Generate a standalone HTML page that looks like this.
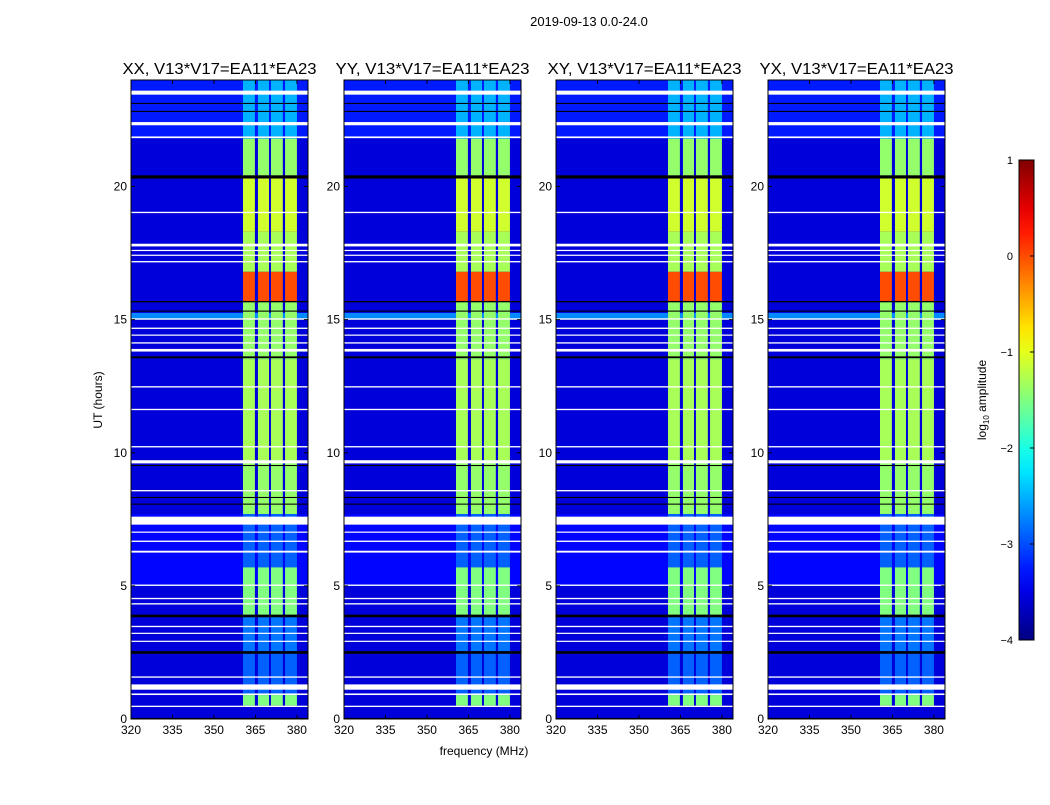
<!DOCTYPE html>
<html><head><meta charset="utf-8"><style>
html,body{margin:0;padding:0;background:#fff;}
svg text{font-family:"Liberation Sans","DejaVu Sans",sans-serif;}
</style></head><body>
<svg id="fig" width="1050" height="800" viewBox="0 0 1050 800" xmlns="http://www.w3.org/2000/svg">
<text x="589" y="26" font-size="13" text-anchor="middle">2019-09-13 0.0-24.0</text>
<text x="484" y="755" font-size="12" text-anchor="middle">frequency (MHz)</text>
<text transform="translate(102,400) rotate(-90)" font-size="12" text-anchor="middle">UT (hours)</text>
<g id="panels"></g>
<g id="cbar"></g>
</svg>
<script>
const panelTitles = ["XX, V13*V17=EA11*EA23","YY, V13*V17=EA11*EA23","XY, V13*V17=EA11*EA23","YX, V13*V17=EA11*EA23"];
const xTicks = [320,335,350,365,380];
const yTicks = [0,5,10,15,20];
const cbTicks = [1,0,-1,-2,-3,-4];
const bands = [[360.5,364.8],[365.9,369.9],[370.6,374.9],[375.7,380]];
// background segments [t0,t1,log amp]
const bgSegs = [[0,5,-3.55],[5,7.7,-3.35],[7.7,15,-3.55],[15,15.25,-2.7],[15.25,21.8,-3.55],[21.8,24,-3.25]];
// band segments [t0,t1,log amp]
const bandSegs = [[0.5,0.9,-1.5],[0.9,2.5,-2.9],[2.5,3.9,-2.8],[3.9,5.7,-1.5],[5.7,7.7,-2.9],[7.7,9.7,-1.4],[9.7,13.5,-1.3],[13.5,15.7,-1.4],[15.7,16.8,0.0],[16.8,18.3,-1.3],[18.3,20.4,-1.1],[20.4,21.8,-1.4],[21.8,24,-2.5]];
const whiteRows = [[23.45,23.6],[22.3,22.42],[21.82,21.88],[19.0,19.05],[17.75,17.85],[17.58,17.62],[17.4,17.44],[17.15,17.2],[15.0,15.05],[14.65,14.7],[14.4,14.44],[14.1,14.15],[13.8,13.9],[12.45,12.5],[11.6,11.65],[10.2,10.25],[9.6,9.72],[8.55,8.6],[7.3,7.6],[7.0,7.04],[6.65,6.7],[6.25,6.32],[5.0,5.05],[4.5,4.55],[4.3,4.35],[3.45,3.5],[3.2,3.24],[2.9,2.94],[1.55,1.6],[1.1,1.3],[0.9,0.96],[0.45,0.5]];
const blackRows = [[23.1,23.14],[22.8,22.84],[20.3,20.42],[15.65,15.7],[15.3,15.34],[13.55,13.62],[9.5,9.54],[8.3,8.34],[8.05,8.09],[3.82,3.92],[2.45,2.55],[0,0.04]];
const fMin=320,fMax=384,tMin=0,tMax=24,cMin=-4,cMax=1;
const panelX=[131,344,556,768], panelW=177, pTop=80, pBot=719;
const NS="http://www.w3.org/2000/svg";
function jet(a){const v=Math.max(0,Math.min(1,(a-cMin)/(cMax-cMin)));const c=x=>Math.round(255*Math.max(0,Math.min(1,1.5-Math.abs(x))));return `rgb(${c(4*v-3)},${c(4*v-2)},${c(4*v-1)})`;}
function mk(tag,attrs,parent){const e=document.createElementNS(NS,tag);for(const k in attrs)e.setAttribute(k,attrs[k]);parent.appendChild(e);return e;}
const root=document.getElementById('panels');
panelX.forEach((px,pi)=>{
  const xs=f=>px+(f-fMin)/(fMax-fMin)*panelW;
  const ys=t=>pBot-(t-tMin)/(tMax-tMin)*(pBot-pTop);
  const g=mk('g',{},root);
  
  
  bgSegs.forEach(s=>{const r=mk('rect',{x:px,y:ys(s[1]),width:panelW,height:ys(s[0])-ys(s[1]),fill:jet(s[2])},g);
    });
  bands.forEach(b=>bandSegs.forEach(s=>{const r=mk('rect',{x:xs(b[0]),y:ys(s[1]),width:xs(b[1])-xs(b[0]),height:ys(s[0])-ys(s[1]),fill:jet(s[2])},g);
    }));
  blackRows.forEach(s=>{const r=mk('rect',{x:px,y:ys(s[1]),width:panelW,height:Math.max(1,ys(s[0])-ys(s[1])),fill:'#000'},g);
    });
  whiteRows.forEach(s=>{const r=mk('rect',{x:px,y:ys(s[1]),width:panelW,height:Math.max(1.2,ys(s[0])-ys(s[1])),fill:'#fff'},g);
    });
  const fr=mk('rect',{x:px,y:pTop,width:panelW,height:pBot-pTop,fill:'none',stroke:'#000','stroke-width':1},g);
  
  const tt=mk('text',{x:px+panelW/2,y:74,'font-size':16,'text-anchor':'middle',textLength:194,lengthAdjust:'spacingAndGlyphs'},g);tt.textContent=panelTitles[pi];
  
  xTicks.forEach(f=>{const x=xs(f);mk('line',{x1:x,x2:x,y1:pBot,y2:pBot-4,stroke:'#000'},g);mk('line',{x1:x,x2:x,y1:pTop,y2:pTop+4,stroke:'#000'},g);
    const t=mk('text',{x:x,y:pBot+15,'font-size':12,'text-anchor':'middle'},g);t.textContent=f;
    });
  yTicks.forEach(v=>{const y=ys(v);mk('line',{x1:px,x2:px+4,y1:y,y2:y,stroke:'#000'},g);mk('line',{x1:px+panelW,x2:px+panelW-4,y1:y,y2:y,stroke:'#000'},g);
    const t=mk('text',{x:px-4,y:y+4,'font-size':12,'text-anchor':'end'},g);t.textContent=v;
    });
});
const cb=document.getElementById('cbar');
const cbx=1019,cbw=15,cbTop=160,cbBot=640;
const cy=v=>cbBot-(v-cMin)/(cMax-cMin)*(cbBot-cbTop);
const defs=mk('defs',{},cb);const lg=mk('linearGradient',{id:'jetg',x1:0,y1:1,x2:0,y2:0},defs);
for(let i=0;i<=20;i++){mk('stop',{offset:i/20,'stop-color':jet(cMin+(cMax-cMin)*i/20)},lg);}
const cbr=mk('rect',{x:cbx,y:cbTop,width:cbw,height:cbBot-cbTop,fill:'url(#jetg)',stroke:'#000'},cb);

cbTicks.forEach(v=>{const y=cy(v);mk('line',{x1:cbx+cbw-4,x2:cbx+cbw,y1:y,y2:y,stroke:'#000'},cb);
  const t=mk('text',{x:cbx-6,y:y+4,'font-size':11,'text-anchor':'end'},cb);t.textContent=v<0?'\u2212'+(-v):String(v);
  });
const cl=mk('text',{transform:'translate(986,400) rotate(-90)','font-size':12,'text-anchor':'middle'},cb);

cl.innerHTML='log<tspan font-size="8" dy="3">10</tspan><tspan dy="-3"> amplitude</tspan>';
</script>
</body></html>
